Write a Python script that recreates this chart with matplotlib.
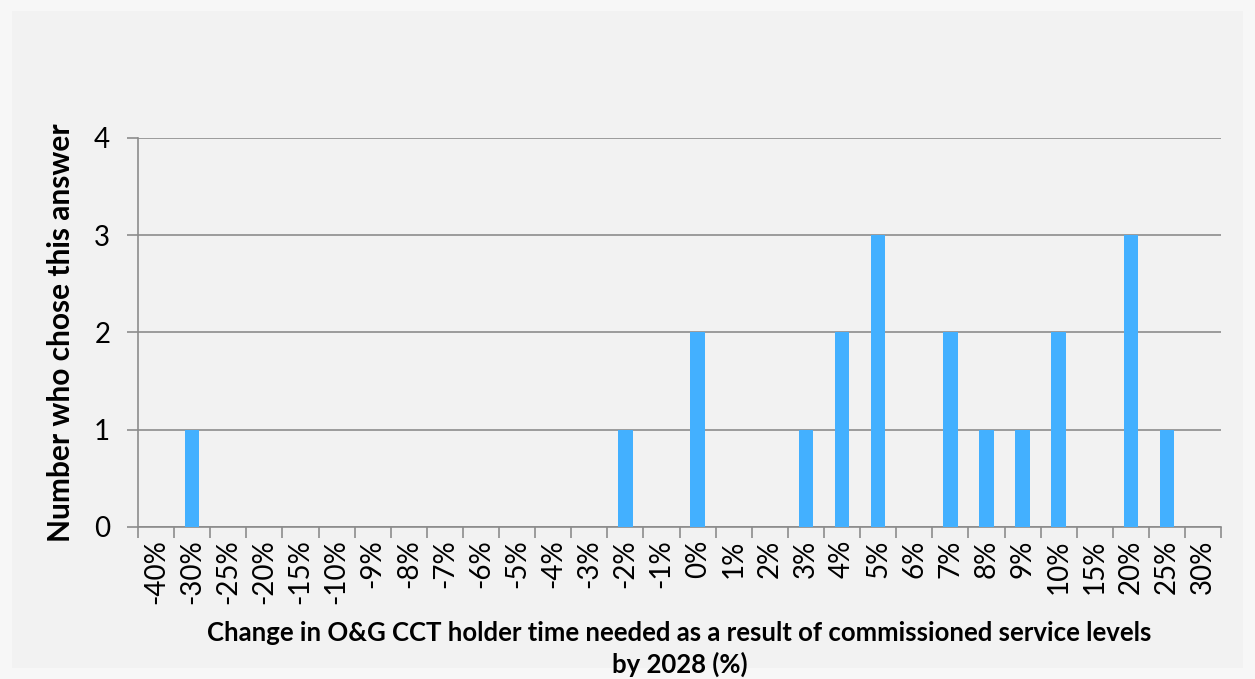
import matplotlib.pyplot as plt
from matplotlib.patches import Rectangle

categories = ['-40%', '-30%', '-25%', '-20%', '-15%', '-10%', '-9%', '-8%', '-7%',
              '-6%', '-5%', '-4%', '-3%', '-2%', '-1%', '0%', '1%', '2%', '3%', '4%',
              '5%', '6%', '7%', '8%', '9%', '10%', '15%', '20%', '25%', '30%']
counts = [0, 1, 0, 0, 0, 0, 0, 0, 0,
          0, 0, 0, 0, 1, 0, 2, 0, 0, 1, 2,
          3, 0, 2, 1, 1, 2, 0, 3, 1, 0]
y_ticks = [0, 1, 2, 3, 4]

plt.rcParams['font.family'] = ['Lato', 'DejaVu Sans']

fig = plt.figure(figsize=(12.55, 6.79), dpi=100)
fig.patch.set_facecolor('#f7f7f7')
# inner panel, drawn behind the axes
fig.patches.append(Rectangle((12 / 1255, 11 / 679), 1231 / 1255, 657 / 679,
                             transform=fig.transFigure, facecolor='#f2f2f2',
                             edgecolor='none', zorder=-10))

ax = fig.add_axes([0.11, 0.2239, 0.863, 0.5729])
ax.set_facecolor('#f2f2f2')

x = list(range(len(categories)))
ax.bar(x, counts, width=0.4, color='#43b0ff', zorder=3)

ax.set_xlim(-0.5, len(categories) - 0.5)
ax.set_ylim(0, 4)
ax.set_yticks(y_ticks)
ax.yaxis.grid(True, color='#8c8c8c', linewidth=1.2, zorder=1)
ax.set_xticks([i - 0.5 for i in range(len(categories) + 1)])
ax.set_xticklabels([])
ax.set_xticks(x, minor=True)
ax.set_xticklabels(categories, minor=True, rotation=90, fontsize=20)
ax.tick_params(axis='x', which='minor', length=0, pad=9)
ax.tick_params(axis='x', which='major', length=8, color='#8c8c8c', width=1.2)
ax.tick_params(axis='y', length=8, color='#8c8c8c', width=1.2, labelsize=20, pad=12)

for side in ['top', 'right']:
    ax.spines[side].set_visible(False)
for side in ['left', 'bottom']:
    ax.spines[side].set_color('#8c8c8c')
    ax.spines[side].set_linewidth(1.2)

ax.set_ylabel('Number who chose this answer', fontsize=21.5, fontweight='bold', labelpad=14)
ax.set_xlabel('Change in O&G CCT holder time needed as a result of commissioned service levels\nby 2028 (%)',
              fontsize=18.5, fontweight='bold', labelpad=12, linespacing=1.3)

fig.savefig('out.png', dpi=100, facecolor=fig.get_facecolor())
